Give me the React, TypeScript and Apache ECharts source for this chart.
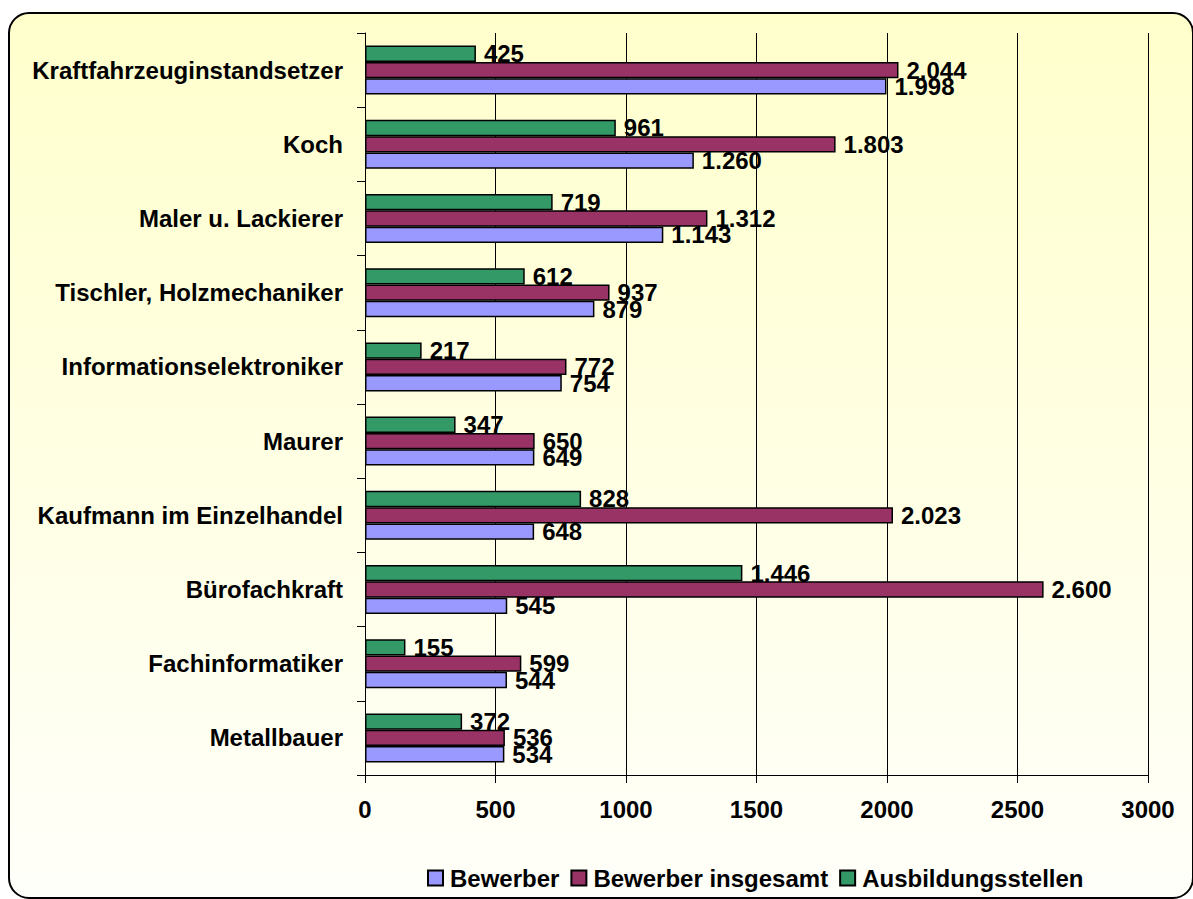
import React, { useEffect, useRef } from "react";
import * as echarts from "echarts";

const categories = [
  "Kraftfahrzeuginstandsetzer",
  "Koch",
  "Maler u. Lackierer",
  "Tischler, Holzmechaniker",
  "Informationselektroniker",
  "Maurer",
  "Kaufmann im Einzelhandel",
  "Bürofachkraft",
  "Fachinformatiker",
  "Metallbauer",
];
const bewerber = [1998, 1260, 1143, 879, 754, 649, 648, 545, 544, 534];
const bewerberInsgesamt = [2044, 1803, 1312, 937, 772, 650, 2023, 2600, 599, 536];
const ausbildungsstellen = [425, 961, 719, 612, 217, 347, 828, 1446, 155, 372];
const xTicks = [0, 500, 1000, 1500, 2000, 2500, 3000];

const FONT = "'Liberation Sans', Arial, sans-serif";

function fmt(v: number): string {
  return String(v).replace(/\B(?=(\d{3})+(?!\d))/g, ".");
}

export default function App() {
  const ref = useRef<HTMLDivElement>(null);
  useEffect(() => {
    if (!ref.current) return;
    const chart = echarts.init(ref.current, null, { renderer: "svg" });
    const label = {
      show: true,
      position: "right",
      distance: 8,
      color: "#000",
      fontFamily: FONT,
      fontWeight: "bold",
      fontSize: 24,
      formatter: (p: any) => fmt(p.value),
    };
    const mk = (name: string, data: number[], color: string) => ({
      name,
      type: "bar",
      data,
      barGap: "0%",
      barCategoryGap: "34%",
      itemStyle: { color, borderColor: "#000", borderWidth: 1.5 },
      label,
    });
    chart.setOption({
      animation: false,
      textStyle: { fontFamily: FONT },
      graphic: [
        {
          type: "rect",
          z: -10,
          silent: true,
          shape: { x: 9, y: 13, width: 1184, height: 885, r: 20 },
          style: {
            fill: new echarts.graphic.LinearGradient(0, 0, 0, 1, [
              { offset: 0, color: "#FFFFCC" },
              { offset: 1, color: "#FFFFFA" },
            ]),
            stroke: "#000",
            lineWidth: 2,
          },
        },
      ],
      legend: {
        left: 422,
        top: 861,
        itemWidth: 15,
        itemHeight: 15,
        itemGap: 11,
        icon: "rect",
        data: ["Bewerber", "Bewerber insgesamt", "Ausbildungsstellen"],
        textStyle: {
          fontFamily: FONT,
          fontWeight: "bold",
          fontSize: 24,
          color: "#000",
          padding: [0, 0, 0, 2],
        },
      },
      grid: { left: 365, right: 45, top: 33, bottom: 124, containLabel: false },
      xAxis: {
        type: "value",
        min: 0,
        max: 3000,
        interval: 500,
        axisLine: { show: true, lineStyle: { color: "#000", width: 1 } },
        axisTick: { show: true, length: 8, lineStyle: { color: "#000" } },
        splitLine: { show: true, lineStyle: { color: "#000", width: 1 } },
        axisLabel: {
          margin: 22,
          color: "#000",
          fontFamily: FONT,
          fontWeight: "bold",
          fontSize: 24,
          formatter: (v: number) => (xTicks.includes(v) ? String(v) : ""),
        },
      },
      yAxis: {
        type: "category",
        inverse: true,
        data: categories,
        axisLine: { show: true, lineStyle: { color: "#000", width: 1 } },
        axisTick: { show: true, length: 8, lineStyle: { color: "#000" } },
        splitLine: { show: false },
        axisLabel: {
          margin: 22,
          color: "#000",
          fontFamily: FONT,
          fontWeight: "bold",
          fontSize: 24,
        },
      },
      series: [
        mk("Ausbildungsstellen", ausbildungsstellen, "#339966"),
        mk("Bewerber insgesamt", bewerberInsgesamt, "#993366"),
        mk("Bewerber", bewerber, "#9999FF"),
      ],
    });
    return () => chart.dispose();
  }, []);
  return (
    <div
      ref={ref}
      style={{ position: "absolute", left: 0, top: 0, width: 1193, height: 899 }}
    />
  );
}
